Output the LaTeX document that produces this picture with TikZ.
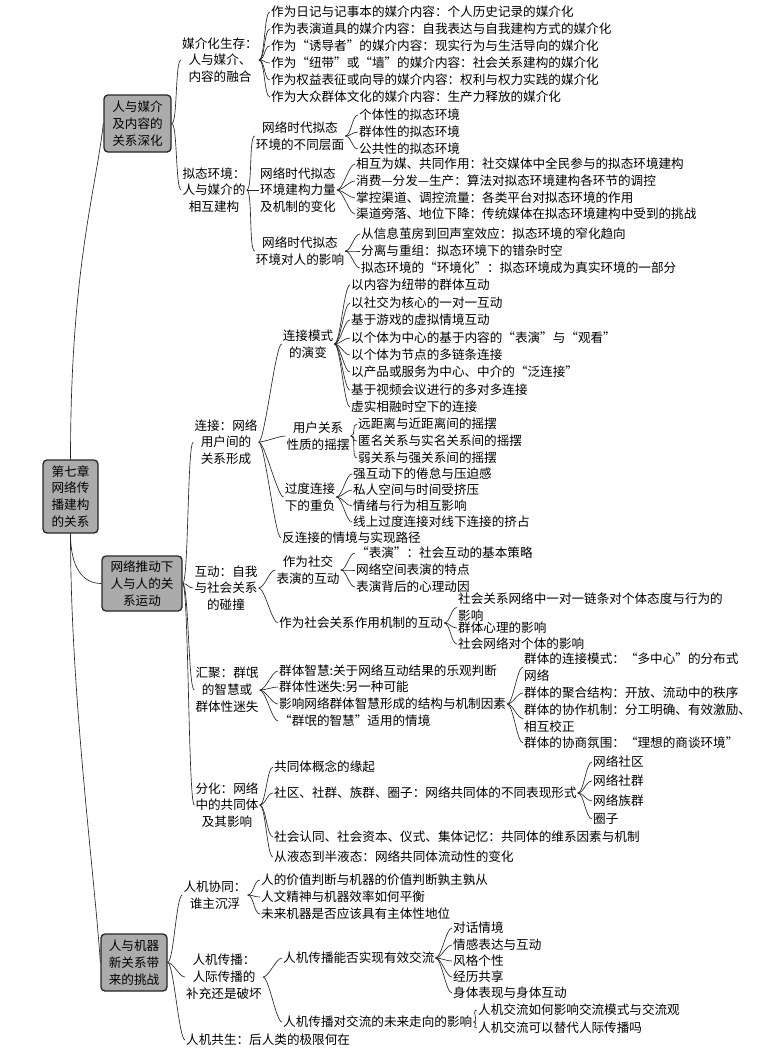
\documentclass[tikz,border=0pt]{standalone}
\usepackage{fontspec}
\setmainfont{Noto Sans CJK SC}
\begin{document}
\begin{tikzpicture}[x=1pt,y=-1pt,
  every node/.style={font=\fontsize{12.6}{16.8}\selectfont, text=black},
  box/.style={draw=black!85, line width=1.3pt, rounded corners=4pt, fill=black!33, align=center, inner sep=0pt},
  lab/.style={align=center, inner sep=1pt},
  leaf/.style={anchor=west, inner sep=1pt, align=left},
  conn/.style={draw=black!85, line width=0.65pt},
  brc/.style={to path={.. controls +(6,0) and +(-6,0) .. (\tikztotarget) \tikztonodes}}
]
\fill[white] (0,0) rectangle (779,1061);
\useasboundingbox (0,0) rectangle (779,1061);

% level 1
\node[box, minimum width=55pt, minimum height=73pt] (R) at (70.5,496.5) {第七章\\网络传\\播建构\\的关系};
\node[box, minimum width=67pt, minimum height=57pt] (A) at (137.5,123.5) {人与媒介\\及内容的\\关系深化};
\node[box, minimum width=80pt, minimum height=55pt] (B) at (142,583.5) {网络推动下\\人与人的关\\系运动};
\node[box, minimum width=66pt, minimum height=57pt] (C) at (134,962.5) {人与机器\\新关系带\\来的挑战};

\draw[conn] (R.north) .. controls +(0,-190) and +(-8,70) .. (A.west);
\draw[conn] (R.south) .. controls +(0,35) and +(-18,0) .. (B.west);
\draw[conn] (R.south) .. controls +(0,160) and +(-6,-90) .. (C.west);

% ---------- A ----------
\node[lab] (A1) at (220,60) {媒介化生存：\\人与媒介、\\内容的融合};
\node[lab] (A2) at (214,190) {拟态环境：\\人与媒介的\\相互建构};
\draw[conn] (A.east) to[brc] (A1.west);
\draw[conn] (A.east) to[brc] (A2.west);

\foreach \i/\y/\t in {1/12/{作为日记与记事本的媒介内容：个人历史记录的媒介化},
  2/29/{作为表演道具的媒介内容：自我表达与自我建构方式的媒介化},
  3/46/{作为“诱导者”的媒介内容：现实行为与生活导向的媒介化},
  4/63/{作为“纽带”或“墙”的媒介内容：社会关系建构的媒介化},
  5/80/{作为权益表征或向导的媒介内容：权利与权力实践的媒介化},
  6/97/{作为大众群体文化的媒介内容：生产力释放的媒介化}}{
  \node[leaf] (a1-\i) at (270,\y) {\t};
  \draw[conn] (A1.east) to[brc] (a1-\i.west);
}

\node[lab] (A21) at (300,136) {网络时代拟态\\环境的不同层面};
\node[lab] (A22) at (298,190) {网络时代拟态\\环境建构力量\\及机制的变化};
\node[lab] (A23) at (300,251) {网络时代拟态\\环境对人的影响};
\draw[conn] (A2.east) to[brc] (A21.west);
\draw[conn] (A2.east) to[brc] (A22.west);
\draw[conn] (A2.east) to[brc] (A23.west);

\foreach \i/\y/\t in {1/115/{个体性的拟态环境},2/132/{群体性的拟态环境},3/149/{公共性的拟态环境}}{
  \node[leaf] (a21-\i) at (358,\y) {\t};
  \draw[conn] (A21.east) to[brc] (a21-\i.west);
}
\foreach \i/\y/\t in {1/164/{相互为媒、共同作用：社交媒体中全民参与的拟态环境建构},
  2/181/{消费—分发—生产：算法对拟态环境建构各环节的调控},
  3/198/{掌控渠道、调控流量：各类平台对拟态环境的作用},
  4/214/{渠道旁落、地位下降：传统媒体在拟态环境建构中受到的挑战}}{
  \node[leaf] (a22-\i) at (355,\y) {\t};
  \draw[conn] (A22.east) to[brc] (a22-\i.west);
}
\foreach \i/\y/\t in {1/234/{从信息茧房到回声室效应：拟态环境的窄化趋向},
  2/251/{分离与重组：拟态环境下的错杂时空},
  3/268/{拟态环境的“环境化”：拟态环境成为真实环境的一部分}}{
  \node[leaf] (a23-\i) at (360,\y) {\t};
  \draw[conn] (A23.east) to[brc] (a23-\i.west);
}

% ---------- B ----------
\node[lab] (B1) at (226,442) {连接：网络\\用户间的\\关系形成};
\node[lab] (B2) at (226,588) {互动：自我\\与社会关系\\的碰撞};
\node[lab] (B3) at (227,690) {汇聚：群氓\\的智慧或\\群体性迷失};
\node[lab] (B4) at (227,805) {分化：网络\\中的共同体\\及其影响};
\foreach \n in {B1,B2,B3,B4}{\draw[conn] (B.east) to[brc] (\n.west);}

\node[lab] (B11) at (308,344) {连接模式\\的演变};
\node[lab] (B12) at (318,436) {用户关系\\性质的摇摆};
\node[lab] (B13) at (310,497) {过度连接\\下的重负};
\node[leaf] (B14) at (281,538) {反连接的情境与实现路径};
\foreach \n in {B11,B12,B13,B14}{\draw[conn] (B1.east) to[brc] (\n.west);}

\foreach \i/\y/\t in {1/285/{以内容为纽带的群体互动},
  2/303/{以社交为核心的一对一互动},
  3/320/{基于游戏的虚拟情境互动},
  4/338/{以个体为中心的基于内容的“表演”与“观看”},
  5/355/{以个体为节点的多链条连接},
  6/372/{以产品或服务为中心、中介的“泛连接”},
  7/390/{基于视频会议进行的多对多连接},
  8/407/{虚实相融时空下的连接}}{
  \node[leaf] (b11-\i) at (350,\y) {\t};
  \draw[conn] (B11.east) to[brc] (b11-\i.west);
}
\foreach \i/\y/\t in {1/424/{远距离与近距离间的摇摆},
  2/441/{匿名关系与实名关系间的摇摆},
  3/458/{弱关系与强关系间的摇摆}}{
  \node[leaf] (b12-\i) at (357,\y) {\t};
  \draw[conn] (B12.east) to[brc] (b12-\i.west);
}
\foreach \i/\y/\t in {1/474/{强互动下的倦怠与压迫感},
  2/490/{私人空间与时间受挤压},
  3/506/{情绪与行为相互影响},
  4/522/{线上过度连接对线下连接的挤占}}{
  \node[leaf] (b13-\i) at (352,\y) {\t};
  \draw[conn] (B13.east) to[brc] (b13-\i.west);
}

\node[lab] (B21) at (308,570) {作为社交\\表演的互动};
\node[leaf] (B22) at (278,623) {作为社会关系作用机制的互动};
\draw[conn] (B2.east) to[brc] (B21.west);
\draw[conn] (B2.east) to[brc] (B22.west);
\foreach \i/\y/\t in {1/553/{“表演”：社会互动的基本策略},
  2/570/{网络空间表演的特点},
  3/587/{表演背后的心理动因}}{
  \node[leaf] (b21-\i) at (355,\y) {\t};
  \draw[conn] (B21.east) to[brc] (b21-\i.west);
}
\foreach \i/\y/\t in {1/607.5/{社会关系网络中一对一链条对个体态度与行为的\\影响},
  2/628/{群体心理的影响},
  3/644/{社会网络对个体的影响}}{
  \node[leaf] (b22-\i) at (457,\y) {\t};
  \draw[conn] (B22.east) to[brc] (b22-\i.west);
}

\foreach \i/\y/\t in {1/671/{群体智慧:关于网络互动结果的乐观判断},
  2/687/{群体性迷失:另一种可能},
  3/704/{影响网络群体智慧形成的结构与机制因素},
  4/721/{“群氓的智慧”适用的情境}}{
  \node[leaf] (b3-\i) at (278,\y) {\t};
  \draw[conn] (B3.east) to[brc] (b3-\i.west);
}
\foreach \i/\y/\t in {1/667/{群体的连接模式：“多中心”的分布式\\网络},
  2/693/{群体的聚合结构：开放、流动中的秩序},
  3/718.5/{群体的协作机制：分工明确、有效激励、\\相互校正},
  4/743/{群体的协商氛围：“理想的商谈环境”}}{
  \node[leaf] (b33-\i) at (523,\y) {\t};
  \draw[conn] (b3-3.east) to[brc] (b33-\i.west);
}

\foreach \i/\y/\t in {1/767/{共同体概念的缘起},
  2/793/{社区、社群、族群、圈子：网络共同体的不同表现形式},
  3/837/{社会认同、社会资本、仪式、集体记忆：共同体的维系因素与机制},
  4/857/{从液态到半液态：网络共同体流动性的变化}}{
  \node[leaf] (b4-\i) at (273,\y) {\t};
  \draw[conn] (B4.east) to[brc] (b4-\i.west);
}
\foreach \i/\y/\t in {1/762/{网络社区},2/781/{网络社群},3/801/{网络族群},4/819/{圈子}}{
  \node[leaf] (b42-\i) at (592,\y) {\t};
  \draw[conn] (b4-2.east) to[brc] (b42-\i.west);
}

% ---------- C ----------
\node[lab] (C1) at (215,895) {人机协同：\\谁主沉浮};
\node[lab] (C2) at (224,977) {人机传播：\\人际传播的\\补充还是破坏};
\node[leaf] (C3) at (185,1040) {人机共生：后人类的极限何在};
\foreach \n in {C1,C2,C3}{\draw[conn] (C.east) to[brc] (\n.west);}

\foreach \i/\y/\t in {1/880/{人的价值判断与机器的价值判断孰主孰从},
  2/897/{人文精神与机器效率如何平衡},
  3/914/{未来机器是否应该具有主体性地位}}{
  \node[leaf] (c1-\i) at (260,\y) {\t};
  \draw[conn] (C1.east) to[brc] (c1-\i.west);
}

\node[leaf] (C21) at (282,958) {人机传播能否实现有效交流};
\node[leaf] (C22) at (282,1022) {人机传播对交流的未来走向的影响};
\draw[conn] (C2.east) to[brc] (C21.west);
\draw[conn] (C2.east) to[brc] (C22.west);
\foreach \i/\y/\t in {1/928/{对话情境},2/945/{情感表达与互动},3/961/{风格个性},4/977/{经历共享},5/993/{身体表现与身体互动}}{
  \node[leaf] (c21-\i) at (452,\y) {\t};
  \draw[conn] (C21.east) to[brc] (c21-\i.west);
}
\foreach \i/\y/\t in {1/1010/{人机交流如何影响交流模式与交流观},2/1028/{人机交流可以替代人际传播吗}}{
  \node[leaf] (c22-\i) at (477,\y) {\t};
  \draw[conn] (C22.east) to[brc] (c22-\i.west);
}
\end{tikzpicture}
\end{document}
